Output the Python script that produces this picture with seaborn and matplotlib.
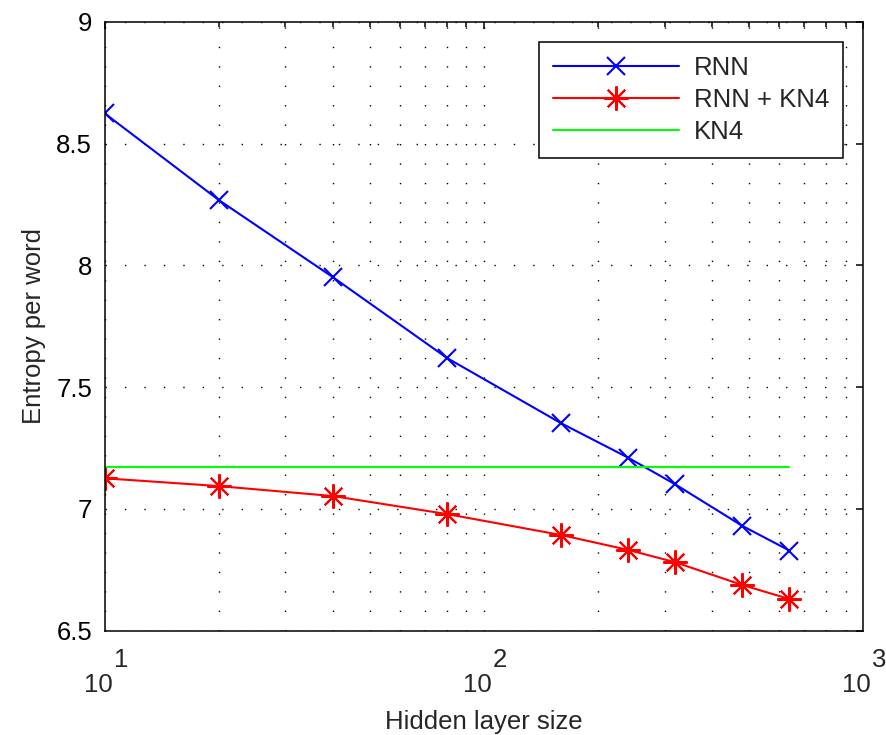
import numpy as np
import pandas as pd
import seaborn as sns
import matplotlib.pyplot as plt
from matplotlib.ticker import LogLocator, NullFormatter, FuncFormatter, MultipleLocator

# --- data ---
hidden_size = [10, 20, 40, 80, 160, 240, 320, 480, 640]
rnn_entropy = [8.625, 8.269, 7.952, 7.620, 7.352, 7.211, 7.101, 6.931, 6.829]
rnn_kn4_entropy = [7.126, 7.094, 7.053, 6.979, 6.893, 6.832, 6.781, 6.688, 6.630]
kn4_entropy = 7.171
kn4_span = [10, 640]
decade_ticks = [10, 100, 1000]
decade_exps = ["1", "2", "3"]

df = pd.DataFrame({"size": hidden_size, "RNN": rnn_entropy, "RNN + KN4": rnn_kn4_entropy})
kn4_df = pd.DataFrame({"size": kn4_span, "KN4": [kn4_entropy] * len(kn4_span)})

FS = 18.5

sns.set_style("white")
plt.rcParams["font.family"] = ["Liberation Sans", "DejaVu Sans"]
plt.rcParams["font.size"] = FS

fig = plt.figure(figsize=(8.86, 7.35), dpi=100)
ax = fig.add_axes([0.118, 0.1419, 0.856, 0.8282])

sns.lineplot(data=df, x="size", y="RNN", ax=ax, color="#0000ff", lw=1.5,
             marker="x", markersize=13.5, markeredgecolor="#0000ff", markeredgewidth=1.5,
             label="RNN")
sns.lineplot(data=df, x="size", y="RNN + KN4", ax=ax, color="#ff0000", lw=1.5,
             marker=(8, 2, 0), markersize=17.5, markeredgecolor="#ff0000", markeredgewidth=1.5,
             label="RNN + KN4")
sns.lineplot(data=kn4_df, x="size", y="KN4", ax=ax, color="#00ff00", lw=1.5, label="KN4")

ax.set_xscale("log")
ax.set_xlim(10, 1000)
ax.set_ylim(6.5, 9)
ax.yaxis.set_major_locator(MultipleLocator(0.5))
ax.yaxis.set_major_formatter(FuncFormatter(lambda v, p: f"{v:g}"))
ax.xaxis.set_major_locator(LogLocator(base=10))
ax.xaxis.set_minor_locator(LogLocator(base=10, subs=np.arange(2, 10)))
ax.xaxis.set_major_formatter(NullFormatter())
ax.xaxis.set_minor_formatter(NullFormatter())

dots = (0, (1, 13))
ax.grid(True, which="major", axis="both", color="k", lw=1.0, linestyle=dots)
ax.grid(True, which="minor", axis="x", color="k", lw=1.0, linestyle=dots)

ax.tick_params(which="both", direction="in", top=True, right=True, colors="k",
               labelsize=FS, pad=9)
ax.tick_params(which="major", length=5, width=1.1)
ax.tick_params(which="minor", length=3.5, width=1.1)
for s in ax.spines.values():
    s.set_color("k")
    s.set_linewidth(1.1)

# MATLAB-style 10^n tick labels
for t, e in zip(decade_ticks, decade_exps):
    ax.annotate("10", xy=(t, 0), xycoords=("data", "axes fraction"),
                xytext=(-4.5, -43.9), textcoords="offset points",
                ha="center", va="baseline", fontsize=FS, annotation_clip=False)
    ax.annotate(e, xy=(t, 0), xycoords=("data", "axes fraction"),
                xytext=(6.8, -25.9), textcoords="offset points",
                ha="left", va="baseline", fontsize=FS, annotation_clip=False)

ax.set_xlabel("Hidden layer size", fontsize=FS, labelpad=48)
ax.set_ylabel("Entropy per word", fontsize=FS, labelpad=7)

leg = ax.legend(loc="upper right", fontsize=FS, handlelength=4.9, labelspacing=0.3,
                fancybox=False, framealpha=1, edgecolor="k", borderaxespad=0.78,
                handletextpad=0.58, borderpad=0.55)
leg.get_frame().set_linewidth(1.1)

fig.savefig("out.png", dpi=100)
